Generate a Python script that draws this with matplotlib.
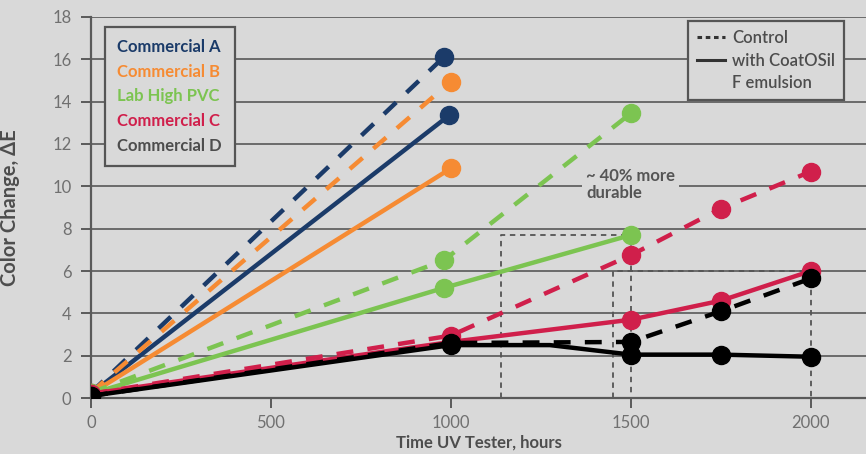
import matplotlib.pyplot as plt
from matplotlib.lines import Line2D

# series order / colours
names = ["Commercial A", "Commercial B", "Lab High PVC", "Commercial C", "Commercial D"]
colors = ["#1b3b69", "#f68b33", "#7cc451", "#d01f4b", "#000000"]
legend_text_colors = ["#1b3b69", "#f68b33", "#7cc451", "#d01f4b", "#4d4d4d"]

# control (dashed) series
a_ctrl_x = [0, 980]
a_ctrl_y = [0.25, 16.1]
b_ctrl_x = [0, 1000]
b_ctrl_y = [0.25, 14.95]
pvc_ctrl_x = [0, 980, 1500]
pvc_ctrl_y = [0.25, 6.5, 13.45]
c_ctrl_x = [0, 1000, 1500, 1750, 2000]
c_ctrl_y = [0.2, 2.95, 6.75, 8.95, 10.7]
d_ctrl_x = [0, 1000, 1500, 1750, 2000]
d_ctrl_y = [0.1, 2.6, 2.65, 4.1, 5.65]

# with CoatOSil F emulsion (solid) series
a_coat_x = [0, 995]
a_coat_y = [0.2, 13.35]
b_coat_x = [0, 1000]
b_coat_y = [0.2, 10.85]
pvc_coat_x = [0, 980, 1500]
pvc_coat_y = [0.2, 5.2, 7.7]
c_coat_x = [0, 1000, 1500, 1750, 2000]
c_coat_y = [0.2, 2.65, 3.7, 4.6, 6.0]
d_coat_x = [0, 1000, 1275, 1500, 1750, 2000]
d_coat_y = [0.1, 2.5, 2.5, 2.05, 2.05, 1.95]
d_coat_marked = [0, 1, 3, 4, 5]

# dashed guide boxes: (x start, x end, height)
guide_x0 = [1140, 1450]
guide_x1 = [1500, 2000]
guide_h = [7.7, 6.0]

x_ticks = [0, 500, 1000, 1500, 2000]
y_ticks = [0, 2, 4, 6, 8, 10, 12, 14, 16, 18]

BG = "#d9d9d9"
GRAY = "#4d4d4d"
plt.rcParams['font.family'] = ['Lato', 'DejaVu Sans']

fig = plt.figure(figsize=(8.66, 4.54), dpi=100, facecolor=BG)
ax = fig.add_axes([0.105, 0.1233, 0.895, 0.8393], facecolor=BG)

# guide boxes
for x0, x1, h in zip(guide_x0, guide_x1, guide_h):
    ax.plot([x0, x0, x1, x1], [0, h, h, 0], color="#555555", lw=1.3,
            linestyle=(0, (3, 2.6)), zorder=2)

ctrl = [(a_ctrl_x, a_ctrl_y), (b_ctrl_x, b_ctrl_y), (pvc_ctrl_x, pvc_ctrl_y),
        (c_ctrl_x, c_ctrl_y), (d_ctrl_x, d_ctrl_y)]
coat = [(a_coat_x, a_coat_y), (b_coat_x, b_coat_y), (pvc_coat_x, pvc_coat_y),
        (c_coat_x, c_coat_y), (d_coat_x, d_coat_y)]

lw = 3.2
ms = 13
for i, ((cx, cy), (sx, sy)) in enumerate(zip(ctrl, coat)):
    col = colors[i]
    ax.plot(cx, cy, color=col, lw=lw, linestyle=(0, (3.8, 3.2)), marker='o',
            ms=ms, zorder=3 + i)
    every = d_coat_marked if i == 4 else None
    ax.plot(sx, sy, color=col, lw=lw, marker='o', ms=ms, markevery=every,
            zorder=3 + i)

ax.set_xlim(0, 2153)
ax.set_ylim(0, 18)
ax.set_xticks(x_ticks)
ax.set_yticks(y_ticks)
ax.grid(axis='y', color=GRAY, lw=1.1)
ax.set_axisbelow(True)
for s in ['top', 'right']:
    ax.spines[s].set_visible(False)
for s in ['left', 'bottom']:
    ax.spines[s].set_color("#5a5a5a")
    ax.spines[s].set_linewidth(1.6)
ax.tick_params(axis='both', length=7, width=1.4, color="#5a5a5a",
               labelsize=12, labelcolor="#707070")
ax.tick_params(axis='y', pad=7)
ax.tick_params(axis='x', pad=5)

ax.set_xlabel("Time UV Tester, hours", fontsize=12, fontweight='bold', color=GRAY)
ax.xaxis.set_label_coords(0.5, -0.095)
ax.set_ylabel("Color Change, ΔE", fontsize=14.5, fontweight='bold', color=GRAY)
ax.yaxis.set_label_coords(-0.092, 0.5)

ax.text(1375, 10.1, "~ 40% more\ndurable", fontsize=12, fontweight='bold',
        color="#555555", va='center', ha='left', linespacing=1.1,
        bbox=dict(facecolor=BG, edgecolor='none', pad=3), zorder=2.5)

# left legend: coloured names only
blank = [Line2D([], [], linestyle='none') for _ in names]
leg1 = ax.legend(blank, names, loc='upper left', bbox_to_anchor=(0.018, 0.975),
                 borderaxespad=0, handlelength=0, handletextpad=0,
                 labelspacing=0.52, borderpad=0.75, alignment='left',
                 frameon=True, fancybox=False, framealpha=1,
                 facecolor=BG, edgecolor="#555555", prop={'weight': 'bold', 'size': 12})
leg1.get_frame().set_linewidth(1.6)
for t, c in zip(leg1.get_texts(), legend_text_colors):
    t.set_color(c)
ax.add_artist(leg1)

# right legend: line styles
style_handles = [Line2D([], [], color="#333333", lw=2.2, linestyle=(0, (1.5, 1.2))),
                 Line2D([], [], color="#333333", lw=2.2),
                 Line2D([], [], linestyle='none')]
leg2 = ax.legend(style_handles, ["Control", "with CoatOSil", "F emulsion"],
                 loc='upper right', bbox_to_anchor=(0.972, 0.99), borderaxespad=0,
                 handlelength=1.7, handletextpad=0.42, labelspacing=0.4,
                 borderpad=0.55, alignment='left', frameon=True, fancybox=False,
                 framealpha=1, facecolor=BG, edgecolor="#555555",
                 prop={'weight': 'semibold', 'size': 12})
leg2.get_frame().set_linewidth(1.6)
for t in leg2.get_texts():
    t.set_color(GRAY)

fig.savefig("out.png", dpi=100, facecolor=BG)
